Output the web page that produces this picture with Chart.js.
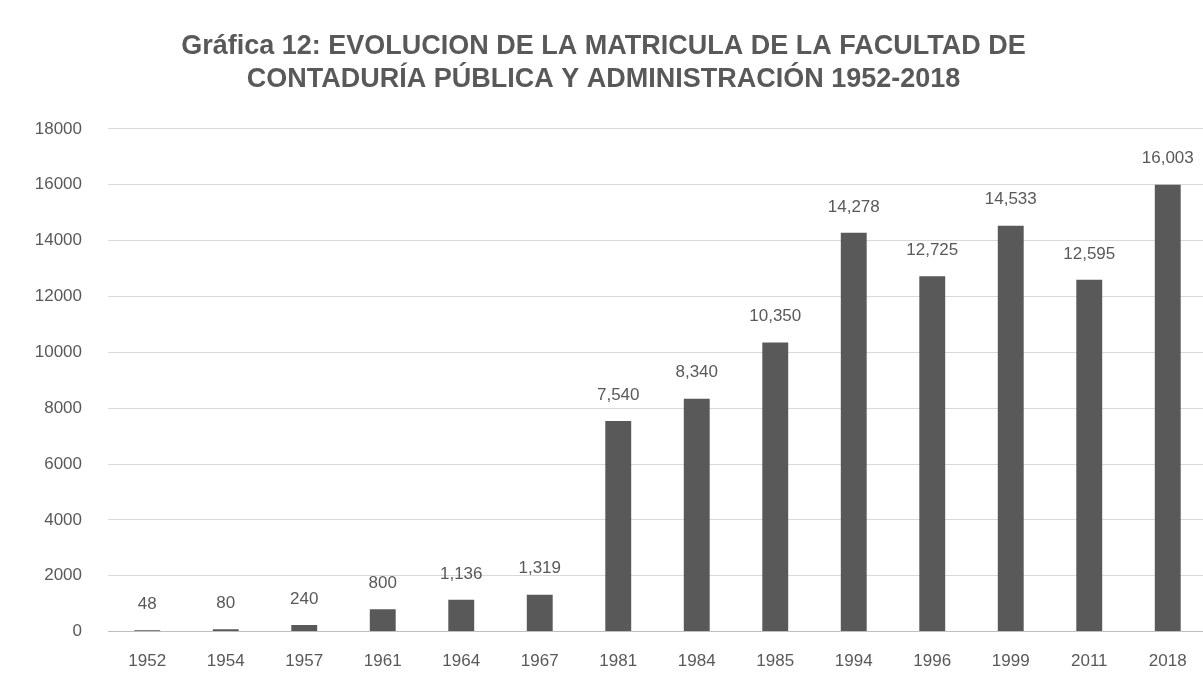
<!DOCTYPE html>
<html>
<head>
<meta charset="utf-8">
<script src="https://cdn.jsdelivr.net/npm/chart.js@4.4.1/dist/chart.umd.min.js"></script>
<style>
  html, body { margin: 0; padding: 0; background: #fff; overflow: hidden; }
  #wrap { width: 1210px; height: 704px; position: relative; }
</style>
</head>
<body>
<div id="wrap"><canvas id="chart"></canvas></div>
<script>
const years = ["1952", "1954", "1957", "1961", "1964", "1967", "1981", "1984", "1985", "1994", "1996", "1999", "2011", "2018"];
const matricula = [48, 80, 240, 800, 1136, 1319, 7540, 8340, 10350, 14278, 12725, 14533, 12595, 16003];
const yTicks = [0, 2000, 4000, 6000, 8000, 10000, 12000, 14000, 16000, 18000];
const titleLines = [
  "Gráfica 12: EVOLUCION DE LA MATRICULA DE LA FACULTAD DE",
  "CONTADURÍA PÚBLICA Y ADMINISTRACIÓN 1952-2018"
];

// etiquetas de valor encima de cada barra
const valueLabels = {
  id: "valueLabels",
  afterDatasetsDraw(chart) {
    const ctx = chart.ctx;
    const meta = chart.getDatasetMeta(0);
    ctx.save();
    ctx.fillStyle = "#595959";
    ctx.font = "17px 'Liberation Sans', Arial, sans-serif";
    ctx.textAlign = "center";
    ctx.textBaseline = "middle";
    meta.data.forEach((bar, i) => {
      ctx.fillText(matricula[i].toLocaleString("en-US"), bar.x, bar.y - 26);
    });
    ctx.restore();
  }
};

const canv = document.getElementById("chart");
new Chart(canv, {
  type: "bar",
  data: {
    labels: years,
    datasets: [{
      label: "Matrícula",
      data: matricula,
      backgroundColor: "#595959",
      borderWidth: 0,
      barPercentage: 0.33,
      categoryPercentage: 1.0
    }]
  },
  options: {
    responsive: true,
    maintainAspectRatio: false,
    animation: false,
    layout: { padding: { left: 0, right: 3, top: 0, bottom: 12 } },
    plugins: {
      legend: { display: false },
      tooltip: { enabled: false },
      title: {
        display: true,
        text: titleLines,
        color: "#595959",
        font: { family: "'Liberation Sans', Arial, sans-serif", size: 27, weight: "bold", lineHeight: 1.22 },
        padding: { top: 30, bottom: 33 }
      }
    },
    scales: {
      x: {
        grid: { display: false, drawTicks: false },
        border: { display: true, color: "#bfbfbf" },
        ticks: {
          color: "#595959",
          font: { family: "'Liberation Sans', Arial, sans-serif", size: 17 },
          padding: 20,
          maxRotation: 0
        }
      },
      y: {
        min: 0,
        max: 18000,
        afterFit(scale) { scale.width = 108; },
        afterBuildTicks(scale) { scale.ticks = yTicks.map(v => ({ value: v })); },
        grid: { color: "#d9d9d9", lineWidth: 1, drawTicks: false },
        border: { display: false },
        ticks: {
          color: "#595959",
          font: { family: "'Liberation Sans', Arial, sans-serif", size: 17 },
          padding: 26,
          callback: v => String(v)
        }
      }
    }
  },
  plugins: [valueLabels]
});
</script>
</body>
</html>
